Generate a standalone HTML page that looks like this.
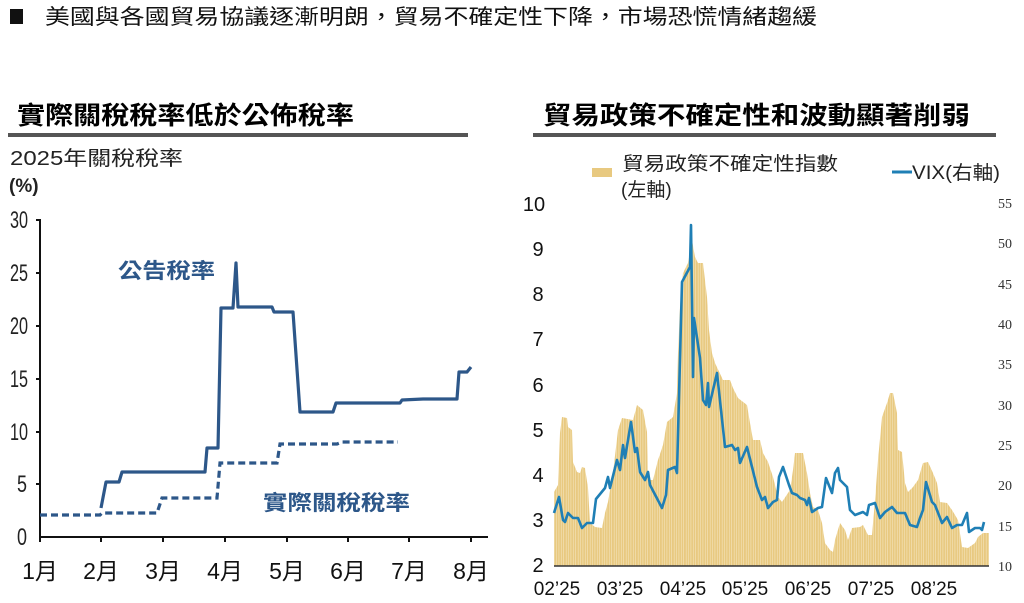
<!DOCTYPE html>
<html><head><meta charset="utf-8"><style>
html,body{margin:0;padding:0;background:#fff;}
svg{display:block;}
text{font-family:"Liberation Sans","Noto Sans CJK TC",sans-serif;}
text.serif{font-family:"Liberation Serif",serif;}
</style></head><body>
<svg width="1024" height="603" viewBox="0 0 1024 603" xmlns="http://www.w3.org/2000/svg">
<!-- header -->
<rect x="10" y="9" width="13" height="15" fill="#111"/>
<text x="45" y="24" font-size="21" fill="#111" textLength="772" lengthAdjust="spacingAndGlyphs">美國與各國貿易協議逐漸明朗，貿易不確定性下降，市場恐慌情緒趨緩</text>
<!-- titles -->
<text x="17" y="124" font-size="25" font-weight="bold" fill="#000" textLength="337" lengthAdjust="spacingAndGlyphs">實際關稅稅率低於公佈稅率</text>
<rect x="8" y="133" width="460" height="4" fill="#555"/>
<text x="543" y="124" font-size="25" font-weight="bold" fill="#000" textLength="427" lengthAdjust="spacingAndGlyphs">貿易政策不確定性和波動顯著削弱</text>
<rect x="533" y="133" width="463" height="4" fill="#555"/>

<!-- LEFT CHART -->
<text x="10" y="165" font-size="20" fill="#222" textLength="173" lengthAdjust="spacingAndGlyphs">2025年關稅稅率</text>
<text x="9" y="192" font-size="19" font-weight="bold" fill="#222">(%)</text>
<g fill="#222" font-size="24" text-anchor="middle">
<text x="19" y="228" textLength="18" lengthAdjust="spacingAndGlyphs">30</text>
<text x="19" y="281" textLength="18" lengthAdjust="spacingAndGlyphs">25</text>
<text x="19" y="334" textLength="18" lengthAdjust="spacingAndGlyphs">20</text>
<text x="19" y="387" textLength="18" lengthAdjust="spacingAndGlyphs">15</text>
<text x="19" y="440" textLength="18" lengthAdjust="spacingAndGlyphs">10</text>
<text x="22" y="492" textLength="10" lengthAdjust="spacingAndGlyphs">5</text>
<text x="22" y="545" textLength="10" lengthAdjust="spacingAndGlyphs">0</text>
</g>
<g stroke="#111" stroke-width="2">
<line x1="40" y1="219" x2="40" y2="538"/>
<line x1="39" y1="537" x2="488" y2="537"/>
<line x1="36" y1="220" x2="40" y2="220"/>
<line x1="36" y1="273" x2="40" y2="273"/>
<line x1="36" y1="326" x2="40" y2="326"/>
<line x1="36" y1="379" x2="40" y2="379"/>
<line x1="36" y1="432" x2="40" y2="432"/>
<line x1="36" y1="484" x2="40" y2="484"/>
<line x1="40" y1="537" x2="40" y2="542"/>
<line x1="101" y1="537" x2="101" y2="542"/>
<line x1="163" y1="537" x2="163" y2="542"/>
<line x1="225" y1="537" x2="225" y2="542"/>
<line x1="287" y1="537" x2="287" y2="542"/>
<line x1="348" y1="537" x2="348" y2="542"/>
<line x1="409" y1="537" x2="409" y2="542"/>
<line x1="471" y1="537" x2="471" y2="542"/>
</g>
<g fill="#111" font-size="23" text-anchor="middle">
<text x="40" y="579">1月</text><text x="101" y="579">2月</text><text x="163" y="579">3月</text><text x="225" y="579">4月</text>
<text x="287" y="579">5月</text><text x="348" y="579">6月</text><text x="409" y="579">7月</text><text x="471" y="579">8月</text>
</g>
<polyline fill="none" stroke="#2d5789" stroke-width="3.2" stroke-linejoin="round" points="101,508 106,482 119,482 122,472 205,472 207,448 218,448 221,308 233,308 236,263 238,307 272,307 274,312 293,312 300,412 333,412 336,403 400,403 402,400 423,399 457,399 459,372 467,372 471,367"/>
<polyline fill="none" stroke="#2d5789" stroke-width="3.2" stroke-dasharray="7,4" points="40,515 100,515 102,513 157,513 162,498 217,498 220,463 277,463 280,444 337,444 342,442 398,442"/>
<text x="118" y="278" font-size="21" font-weight="bold" fill="#2d5789" textLength="97" lengthAdjust="spacingAndGlyphs">公告稅率</text>
<text x="263" y="510" font-size="21" font-weight="bold" fill="#2d5789" textLength="147" lengthAdjust="spacingAndGlyphs">實際關稅稅率</text>

<!-- RIGHT CHART -->
<defs><pattern id="bars" width="2.4" height="10" patternUnits="userSpaceOnUse"><rect width="1.9" height="10" fill="#e8c980"/><rect x="1.9" width="0.5" height="10" fill="#f6e9c6"/></pattern></defs>
<polygon fill="url(#bars)" points="554,566 554,492 558,485 560,433 562,417 567,418 568,427 572,430 573,462 577,472 580,473 582,467 585,468 588,488 590,523 595,527 602,528 605,513 608,502 613,473 618,430 622,418 633,420 637,405 643,410 647,432 648,480 653,480 658,460 663,445 667,422 673,417 677,393 678,353 680,307 683,273 688,263 692,240 695,257 698,263 703,263 707,297 709,330 712,353 715,363 723,380 730,380 733,388 738,398 747,405 750,423 753,440 760,440 763,453 768,462 773,477 778,497 782,502 790,490 793,470 795,453 803,453 807,473 810,493 813,507 818,510 822,523 825,543 830,550 833,552 835,540 840,523 845,530 848,540 852,528 860,527 863,525 868,535 872,535 875,500 878,460 882,417 887,403 890,393 893,393 897,413 898,450 902,452 905,483 908,492 913,487 918,480 923,463 928,462 933,473 937,483 940,502 947,503 952,510 958,520 962,547 968,548 975,543 978,537 983,533 989,533 989,566"/>
<line x1="554" y1="566" x2="989" y2="566" stroke="#333" stroke-width="1.5"/>
<polyline fill="none" stroke="#1f7fb5" stroke-width="2.6" stroke-linejoin="round" points="554,513 559,497 563,520 565,522 568,513 573,518 578,518 582,528 587,523 593,523 596,499 605,488 608,477 610,488 617,460 620,470 623,445 625,458 631,422 635,452 637,448 640,472 645,480 648,472 650,485 662,508 666,495 668,470 675,467 677,473 682,282 690,267 691,225 693,377 694,318 700,358 703,400 706,405 708,383 709,407 717,373 725,447 732,445 735,450 738,448 740,463 747,447 757,487 762,500 765,497 768,508 773,502 777,500 779,477 783,467 789,485 792,493 797,495 800,498 805,500 807,505 809,498 812,512 818,508 822,507 826,478 832,493 835,473 838,468 840,480 847,487 850,510 855,515 863,512 867,515 869,505 875,503 880,518 885,512 892,507 897,513 905,513 910,525 917,527 920,518 923,510 926,482 932,502 935,505 942,523 947,517 952,528 957,525 962,525 967,513 969,532 975,528 980,528 982,530 984,522"/>
<g fill="#111" font-size="20" text-anchor="middle">
<text x="534" y="211">10</text><text x="538" y="256">9</text><text x="538" y="301">8</text><text x="538" y="346">7</text>
<text x="538" y="392">6</text><text x="538" y="437">5</text><text x="538" y="482">4</text><text x="538" y="527">3</text><text x="538" y="572">2</text>
</g>
<g fill="#333" font-size="14" text-anchor="middle">
<text class="serif" x="1005" y="208">55</text><text class="serif" x="1005" y="248">50</text><text class="serif" x="1005" y="289">45</text><text class="serif" x="1005" y="329">40</text>
<text class="serif" x="1005" y="369">35</text><text class="serif" x="1005" y="410">30</text><text class="serif" x="1005" y="450">25</text><text class="serif" x="1005" y="490">20</text>
<text class="serif" x="1005" y="531">15</text><text class="serif" x="1005" y="571">10</text>
</g>
<g fill="#111" font-size="19" text-anchor="middle">
<text x="557" y="595">02’25</text><text x="620" y="595">03’25</text><text x="683" y="595">04’25</text><text x="745" y="595">05’25</text>
<text x="808" y="595">06’25</text><text x="871" y="595">07’25</text><text x="934" y="595">08’25</text>
</g>
<rect x="592" y="168" width="20" height="9" fill="#e8c980"/>
<text x="622" y="170" font-size="19" fill="#222" textLength="216" lengthAdjust="spacingAndGlyphs">貿易政策不確定性指數</text>
<text x="621" y="196" font-size="19" fill="#222">(左軸)</text>
<line x1="892" y1="172" x2="912" y2="172" stroke="#1f7fb5" stroke-width="3"/>
<text x="912" y="179" font-size="19" fill="#222" textLength="88" lengthAdjust="spacingAndGlyphs">VIX(右軸)</text>
</svg>
</body></html>
